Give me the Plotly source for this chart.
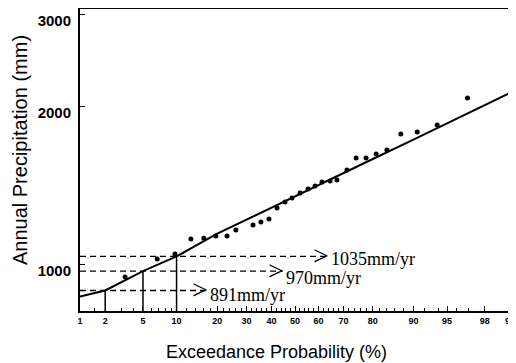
import math
from statistics import NormalDist
import plotly.graph_objects as go

# ---------------- data ----------------
PROB_PCT = [3.3, 6.8, 9.7, 13.0, 16.2, 19.6, 23.1, 26.1, 32.5, 35.6, 38.9, 42.3,
            45.7, 48.7, 52.2, 55.6, 58.6, 61.5, 64.8, 67.5, 71.3, 74.6, 77.9,
            81.0, 84.0, 87.4, 90.7, 93.8, 96.9]
PRECIP_MM = [946, 1024, 1046, 1118, 1122, 1132, 1132, 1163, 1189, 1205, 1221, 1281,
             1316, 1339, 1369, 1393, 1412, 1437, 1443, 1449, 1514, 1597, 1597,
             1625, 1654, 1775, 1791, 1847, 2080]

FIT_PCT = [1, 2, 5, 10, 20, 50, 65, 76, 90, 99]
FIT_MM = [868, 891, 970, 1035, 1144, 1351, 1456, 1548, 1731, 2126]

DESIGN_PCT = [2, 5, 10]
DESIGN_MM = [891, 970, 1035]
DESIGN_LABELS = ["891mm/yr", "970mm/yr", "1035mm/yr"]

X_TICKS = [1, 2, 5, 10, 20, 30, 40, 50, 60, 70, 80, 90, 95, 98, 99]
Y_TICKS = [1000, 2000, 3000]

# ---------------- layout helpers ----------------
ND = NormalDist()


def z(p):
    return ND.inv_cdf(p / 100.0)


ARROW_END_PCT = [17.0, 44.8, 63.9]
LABEL_YSHIFT = [-4, -7, -3]
Y_RANGE_LOG = [2.9107, 3.4880]
X_RANGE = [z(1), z(99)]
MINOR_X = ([1.5, 3, 4, 6, 7, 8, 9] + list(range(12, 20, 2)) +
           [v for v in range(22, 90, 2) if v % 10 != 0] + [92, 94, 96, 97])

fig = go.Figure()

# horizontal dashed lines from axis to arrow tip
for v, pend in zip(DESIGN_MM, ARROW_END_PCT):
    fig.add_trace(go.Scatter(x=[z(1), z(pend)], y=[v, v], mode="lines",
                             line=dict(color="black", width=1.3, dash="6px,4px"),
                             hoverinfo="skip", showlegend=False))
# vertical solid lines from bottom to the fitted curve
ybottom = 10 ** Y_RANGE_LOG[0]
for p, v in zip(DESIGN_PCT, DESIGN_MM):
    fig.add_trace(go.Scatter(x=[z(p), z(p)], y=[ybottom, v], mode="lines",
                             line=dict(color="black", width=1.5),
                             hoverinfo="skip", showlegend=False))

# fitted line
fig.add_trace(go.Scatter(x=[z(p) for p in FIT_PCT], y=FIT_MM, mode="lines",
                         line=dict(color="black", width=2), showlegend=False))
# observed points
fig.add_trace(go.Scatter(x=[z(p) for p in PROB_PCT], y=PRECIP_MM, mode="markers",
                         marker=dict(color="black", size=5), showlegend=False))

annotations = []
for v, pend, lab, ys in zip(DESIGN_MM, ARROW_END_PCT, DESIGN_LABELS, LABEL_YSHIFT):
    annotations.append(dict(x=z(pend), y=math.log10(v), xref="x", yref="y",
                            text=">", showarrow=False, xanchor="right",
                            yanchor="middle", xshift=3, yshift=1,
                            font=dict(family="Liberation Serif", size=28, color="black")))
    annotations.append(dict(x=z(pend), y=math.log10(v), xref="x", yref="y",
                            text=lab, showarrow=False, xanchor="left",
                            yanchor="middle", xshift=1, yshift=ys,
                            font=dict(family="Liberation Serif", size=18, color="black")))

annotations.append(dict(text="Exceedance Probability (%)", xref="paper", yref="paper",
                        x=0.457, y=-0.136, showarrow=False, xanchor="center",
                        yanchor="middle",
                        font=dict(family="Liberation Sans", size=18, color="black")))
annotations.append(dict(text="Annual Precipitation (mm)", xref="paper", yref="paper",
                        x=-0.1395, y=0.533, showarrow=False, textangle=-90,
                        xanchor="center", yanchor="middle",
                        font=dict(family="Liberation Sans", size=20, color="black")))

# the page adds an 8px body margin, so the figure is sized to fit the window
fig.update_layout(
    width=508, height=355,
    margin=dict(l=72, r=6, t=1, b=52, autoexpand=False),
    paper_bgcolor="white", plot_bgcolor="white",
    annotations=annotations,
    xaxis=dict(range=X_RANGE, tickmode="array", automargin=False,
               tickvals=[z(p) for p in X_TICKS], ticktext=[str(p) for p in X_TICKS],
               ticks="inside", ticklen=5, tickwidth=1, tickcolor="black",
               showgrid=False, zeroline=False, showline=True, mirror=True,
               linecolor="black", linewidth=2, ticklabeloverflow="allow",
               tickfont=dict(family="Liberation Sans", size=9, color="black", weight="bold"),
               minor=dict(tickmode="array", tickvals=[z(p) for p in MINOR_X],
                          ticks="inside", ticklen=3, tickwidth=1, tickcolor="black",
                          showgrid=False)),
    yaxis=dict(type="log", range=Y_RANGE_LOG, tickmode="array", automargin=False,
               tickvals=Y_TICKS, ticktext=[str(v) for v in Y_TICKS],
               ticks="inside", ticklen=5, tickwidth=1, tickcolor="black",
               showgrid=False, zeroline=False, showline=True, mirror=True,
               linecolor="black", linewidth=2, ticklabelstandoff=4,
               ticklabelshift=6, ticklabeloverflow="allow",
               tickfont=dict(family="Liberation Sans", size=15, color="black", weight="bold")),
)

fig.write_html("out.html")
